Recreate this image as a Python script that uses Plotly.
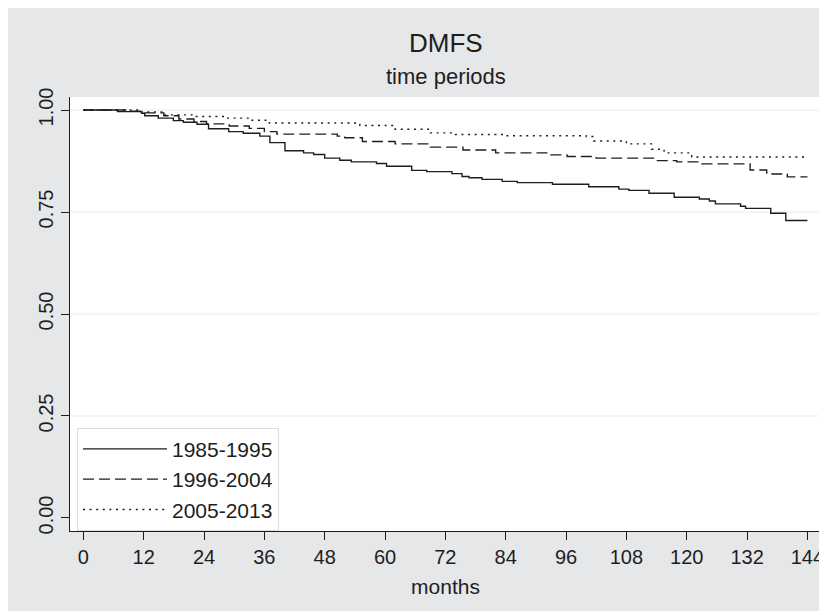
import plotly.graph_objects as go

# ---- data ----
groups = ["1985-1995", "1996-2004", "2005-2013"]

t_8595 = [0, 6.8, 11.6, 12.2, 14.9, 17.9, 19.9, 22.6, 24.9, 28.9, 31.8, 35.1, 37.1, 40.1,
          43.8, 45.8, 48.0, 51.0, 53.3, 58.3, 60.3, 65.3, 68.3, 73.3, 75.3, 76.7, 79.3,
          83.3, 86.3, 93.3, 100.5, 106.5, 108.5, 112.5, 117.5, 122.5, 124.5, 125.7, 130.7,
          131.7, 136.7, 139.7, 144.0]
s_8595 = [1.000, 0.996, 0.992, 0.986, 0.980, 0.974, 0.970, 0.965, 0.954, 0.947, 0.943, 0.936,
          0.920, 0.900, 0.895, 0.891, 0.882, 0.877, 0.873, 0.869, 0.862, 0.852, 0.849, 0.844,
          0.837, 0.834, 0.830, 0.825, 0.822, 0.818, 0.812, 0.806, 0.803, 0.796, 0.786, 0.782,
          0.777, 0.770, 0.764, 0.759, 0.747, 0.729, 0.729]

t_9604 = [0, 9.0, 12.0, 16.0, 19.0, 22.0, 24.5, 29.0, 33.0, 36.0, 38.5, 50.5, 52.0, 55.5,
          62.0, 69.0, 75.5, 82.0, 93.0, 96.2, 102.0, 113.7, 118.0, 123.0, 132.6, 135.9,
          140.0, 144.0]
s_9604 = [1.000, 0.997, 0.993, 0.986, 0.978, 0.972, 0.966, 0.961, 0.955, 0.947, 0.941, 0.936,
          0.932, 0.923, 0.917, 0.909, 0.902, 0.895, 0.890, 0.886, 0.882, 0.876, 0.873, 0.868,
          0.853, 0.843, 0.836, 0.836]

t_0513 = [0, 11.5, 16.0, 22.0, 28.0, 33.0, 37.0, 55.0, 62.0, 69.0, 74.0, 84.0, 100.0, 101.5,
          108.0, 113.0, 115.5, 121.0, 144.0]
s_0513 = [1.000, 0.995, 0.988, 0.984, 0.980, 0.975, 0.968, 0.962, 0.953, 0.944, 0.940, 0.937,
          0.935, 0.924, 0.917, 0.904, 0.895, 0.885, 0.885]

x_ticks = [0, 12, 24, 36, 48, 60, 72, 84, 96, 108, 120, 132, 144]
y_ticks = [0.0, 0.25, 0.5, 0.75, 1.0]
y_ticklabels = ["0.00", "0.25", "0.50", "0.75", "1.00"]
y_gridlines = [0.25, 0.5, 0.75, 1.0]

title_text = "DMFS"
subtitle_text = "time periods"
x_title = "months"

# ---- styling ----
FONT = "Liberation Sans, Arial, Helvetica, sans-serif"
INK = "#1e1e1e"
BG = "#e6e7e9"
GRID = "#eaeaea"

series = [
    (groups[0], t_8595, s_8595, "solid"),
    (groups[1], t_9604, s_9604, "11px,5px"),
    (groups[2], t_0513, s_0513, "2px,4.6px"),
]

fig = go.Figure()
for name, t, s, dash in series:
    fig.add_trace(go.Scatter(
        x=t, y=s, name=name, mode="lines",
        line=dict(shape="hv", color=INK, width=1.4, dash=dash),
        hoverinfo="skip",
    ))

grid_shapes = [
    dict(type="line", xref="paper", yref="y", x0=0, x1=1, y0=g, y1=g,
         line=dict(color=GRID, width=1), layer="below")
    for g in y_gridlines
]

fig.update_layout(
    width=819, height=603,
    margin=dict(l=62, r=6, t=89, b=80, autoexpand=False),
    paper_bgcolor=BG,
    plot_bgcolor="white",
    font=dict(family=FONT, color=INK, size=20),
    showlegend=True,
    legend=dict(
        x=0.0093, y=0.238, xanchor="left", yanchor="top",
        bgcolor="white", bordercolor="#dcdcdc", borderwidth=1,
        font=dict(size=21, family=FONT, color=INK),
        itemwidth=84,
        tracegroupgap=0,
    ),
    shapes=grid_shapes,
    annotations=[
        dict(text=title_text, xref="paper", yref="paper", x=0.5, y=1.124,
             xanchor="center", yanchor="middle", showarrow=False,
             font=dict(size=26, family=FONT, color=INK)),
        dict(text=subtitle_text, xref="paper", yref="paper", x=0.5, y=1.047,
             xanchor="center", yanchor="middle", showarrow=False,
             font=dict(size=22, family=FONT, color=INK)),
    ],
)

fig.update_xaxes(
    range=[-2.65, 146.7], automargin=False,
    tickmode="array", tickvals=x_ticks, ticktext=[str(v) for v in x_ticks],
    ticks="outside", ticklen=8, tickwidth=1.2, tickcolor=INK,
    showline=True, linecolor=INK, linewidth=1.4,
    showgrid=False, zeroline=False,
    tickfont=dict(size=20, family=FONT, color=INK),
    title=dict(text=x_title, font=dict(size=21, family=FONT, color=INK), standoff=12),
)
fig.update_yaxes(
    range=[-0.0319, 1.0319], automargin=False,
    tickmode="array", tickvals=y_ticks, ticktext=y_ticklabels,
    tickangle=-90,
    ticks="outside", ticklen=8, tickwidth=1.2, tickcolor=INK,
    showline=True, linecolor=INK, linewidth=1.4,
    showgrid=False, zeroline=False,
    tickfont=dict(size=20, family=FONT, color=INK),
)

fig.write_html("out.html")
